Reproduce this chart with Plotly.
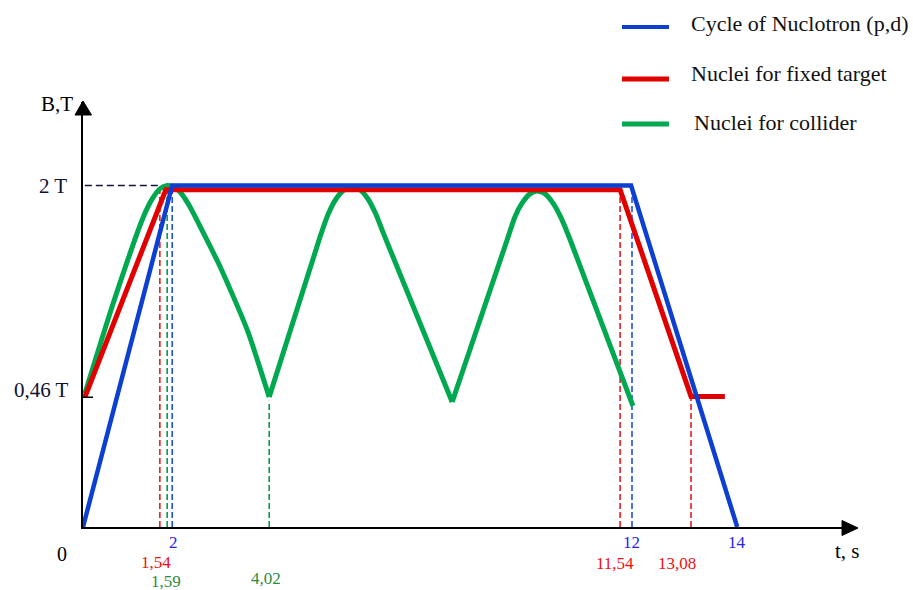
import plotly.graph_objects as go

# ---------------- data (schematic axis units) ----------------
series_names = ["Cycle of Nuclotron (p,d)", "Nuclei for fixed target", "Nuclei for collider"]

blue_t = [0.0, 1.95, 11.98, 14.3]
blue_B = [0.0, 2.0, 2.0, 0.0]

red_t = [0.04, 1.81, 11.74, 13.29, 14.03]
red_B = [0.76, 1.975, 1.975, 0.765, 0.765]

# collider cycle, one list per hump (minimum to minimum)
green_t1 = [0.04, 0.66, 1.31, 1.51, 1.68, 1.84, 1.99, 2.14, 2.34, 2.62, 3.0, 3.59, 4.07]
green_B1 = [0.78, 1.31, 1.81, 1.92, 1.98, 2.0, 1.99, 1.956, 1.874, 1.728, 1.523, 1.154, 0.761]
green_t2 = [4.07, 5.18, 5.36, 5.53, 5.71, 5.88, 6.06, 6.23, 6.40, 6.60, 8.07]
green_B2 = [0.761, 1.698, 1.833, 1.921, 1.974, 1.991, 1.974, 1.921, 1.833, 1.698, 0.732]
green_t3 = [8.07, 9.27, 9.44, 9.60, 9.77, 9.92, 10.10, 10.27, 10.45, 10.65, 12.02]
green_B3 = [0.732, 1.681, 1.816, 1.898, 1.951, 1.968, 1.951, 1.898, 1.810, 1.681, 0.709]

guide_t = [1.68, 1.84, 1.95, 4.07, 11.74, 12.0, 13.29]
guide_top = [1.975, 1.99, 2.0, 0.74, 1.975, 2.0, 0.765]

tick_text = ["2", "1,54", "1,59", "4,02", "12", "11,54", "13,08", "14"]
tick_pos = [1.97, 1.60, 1.81, 4.0, 11.98, 11.63, 12.98, 14.3]

y_label_text = ["2 T", "0,46 T"]
y_label_pos = [2.0, 0.8]

# ---------------- styles ----------------
C_BLUE = "#0d3fd0"
C_RED = "#e00000"
C_GREEN = "#00a84f"
T_BLUE = "#2424f0"
T_RED = "#f01010"
T_GREEN = "#2e8b3a"
guide_colors = ["#e02020", "#00a050", "#2050e0", "#00a050", "#e02020", "#2050e0", "#e02020"]
tick_colors = [T_BLUE, T_RED, T_GREEN, T_GREEN, T_BLUE, T_RED, T_RED, T_BLUE]
tick_rows_px = [542, 562, 581, 578, 542, 563, 563, 542]
FONT = "Liberation Serif"

W, H = 913, 590
L, R, T, B = 83, 857, 102, 527
PW, PH = R - L, B - T
XS, YS = 45.75, 170.75  # px per unit


def px2x(px):
    return (px - L) / PW


def py2y(py):
    return (B - py) / PH


fig = go.Figure()

# dashed guides
for gx, gt, gc in zip(guide_t, guide_top, guide_colors):
    fig.add_trace(go.Scatter(x=[gx, gx], y=[0, gt], mode="lines",
                             line=dict(color=gc, width=1.6, dash="6px,3px"),
                             showlegend=False, hoverinfo="skip"))
# black dashed line at 2 T
fig.add_trace(go.Scatter(x=[0.04, 2.51], y=[blue_B[1], blue_B[1]], mode="lines",
                         line=dict(color="#14143c", width=1.6, dash="7px,4px"),
                         showlegend=False, hoverinfo="skip"))

for gt_, gb_ in [(green_t1, green_B1), (green_t2, green_B2), (green_t3, green_B3)]:
    fig.add_trace(go.Scatter(x=gt_, y=gb_, mode="lines", name=series_names[2],
                             line=dict(color=C_GREEN, width=5, shape="spline", smoothing=0.6),
                             showlegend=False))
fig.add_trace(go.Scatter(x=red_t, y=red_B, mode="lines", name=series_names[1],
                         line=dict(color=C_RED, width=5), showlegend=False))
fig.add_trace(go.Scatter(x=blue_t, y=blue_B, mode="lines", name=series_names[0],
                         line=dict(color=C_BLUE, width=4.5), showlegend=False))

shapes = []
annotations = []

# 0,46 tick mark on y axis
shapes.append(dict(type="line", xref="x", yref="y", x0=0, x1=10 / XS,
                   y0=red_B[0], y1=red_B[0], line=dict(color="black", width=1.5)))

# axis arrows
shapes.append(dict(type="path", xref="paper", yref="paper",
                   path=f"M {px2x(83)},{py2y(101)} L {px2x(75)},{py2y(115)} L {px2x(91.5)},{py2y(115)} Z",
                   fillcolor="black", line=dict(color="black", width=1)))
shapes.append(dict(type="path", xref="paper", yref="paper",
                   path=f"M {px2x(858)},{py2y(528)} L {px2x(842)},{py2y(520.5)} L {px2x(842)},{py2y(535.5)} Z",
                   fillcolor="black", line=dict(color="black", width=1)))

# axis titles
annotations.append(dict(text="B,T", xref="paper", yref="paper", x=px2x(57), y=py2y(103.5),
                        xanchor="center", yanchor="middle", showarrow=False,
                        font=dict(family=FONT, size=21, color="black")))
annotations.append(dict(text="t, s", xref="paper", yref="paper", x=px2x(847), y=py2y(551),
                        xanchor="center", yanchor="middle", showarrow=False,
                        font=dict(family=FONT, size=21, color="black")))
annotations.append(dict(text="0", xref="paper", yref="paper", x=px2x(62), y=py2y(554),
                        xanchor="center", yanchor="middle", showarrow=False,
                        font=dict(family=FONT, size=20, color="black")))

# y labels
for txt, yv, right_px in zip(y_label_text, y_label_pos, [69, 71]):
    annotations.append(dict(text=txt, xref="paper", yref="y", x=px2x(right_px), y=yv,
                            xanchor="right", yanchor="middle", showarrow=False,
                            font=dict(family=FONT, size=21, color="#111133")))

# x value labels
for txt, xv, col, rpx in zip(tick_text, tick_pos, tick_colors, tick_rows_px):
    annotations.append(dict(text=txt, xref="x", yref="paper", x=xv, y=py2y(rpx),
                            xanchor="center", yanchor="middle", showarrow=False,
                            font=dict(family=FONT, size=17, color=col)))

# legend (drawn manually)
leg_line_y = [27, 79, 124]
leg_text_y = [23, 74, 122]
leg_text_x = [689, 689, 692]
leg_colors = [C_BLUE, C_RED, C_GREEN]
leg_widths = [4, 5, 5]
for nm, ly, ty, tx, c, w in zip(series_names, leg_line_y, leg_text_y, leg_text_x, leg_colors, leg_widths):
    shapes.append(dict(type="line", xref="paper", yref="paper",
                       x0=px2x(622), x1=px2x(669), y0=py2y(ly), y1=py2y(ly),
                       line=dict(color=c, width=w)))
    annotations.append(dict(text=nm, xref="paper", yref="paper", x=px2x(tx), y=py2y(ty),
                            xanchor="left", yanchor="middle", showarrow=False,
                            font=dict(family=FONT, size=22, color="#111111")))

fig.update_layout(
    width=W, height=H, autosize=False,
    margin=dict(l=L, r=W - R, t=T, b=H - B, pad=0),
    paper_bgcolor="white", plot_bgcolor="white",
    showlegend=False,
    shapes=shapes, annotations=annotations,
    xaxis=dict(range=[0, PW / XS], showgrid=False, zeroline=False, showticklabels=False,
               ticks="", showline=True, linecolor="black", linewidth=2, fixedrange=True),
    yaxis=dict(range=[0, PH / YS], showgrid=False, zeroline=False, showticklabels=False,
               ticks="", showline=True, linecolor="black", linewidth=2, fixedrange=True),
)

fig.write_html("out.html", config={"displayModeBar": False})
